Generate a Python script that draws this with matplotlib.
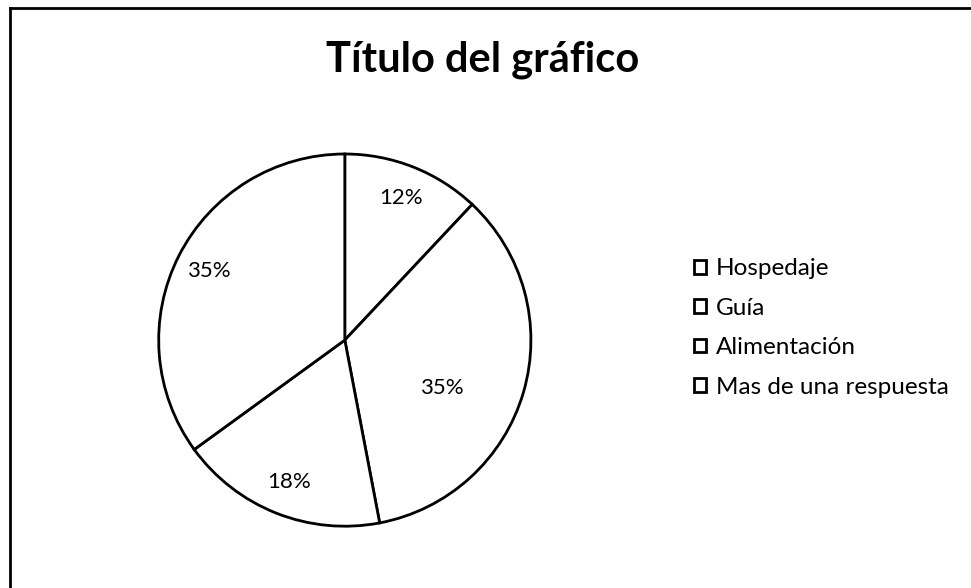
import matplotlib.pyplot as plt
from matplotlib.lines import Line2D

plt.rcParams['font.family'] = ['Lato', 'DejaVu Sans']

# datos del gráfico
categorias = ['Hospedaje', 'Guía', 'Alimentación', 'Mas de una respuesta']
porcentajes = [12, 35, 18, 35]
titulo = 'Título del gráfico'

fig = plt.figure(figsize=(9.71, 5.88), dpi=100)

ax = fig.add_axes([0.1596, 0.0986, 0.391, 0.646])
wedges, texts, autotexts = ax.pie(
    porcentajes, startangle=90, counterclock=False,
    colors=['white'] * len(porcentajes),
    wedgeprops={'edgecolor': 'black', 'linewidth': 2},
    autopct='%1.0f%%', pctdistance=0.82,
    textprops={'fontsize': 16, 'color': 'black'})
ax.set_xlim(-1.02, 1.02)
ax.set_ylim(-1.02, 1.02)
ax.set_aspect('equal')

# la etiqueta de "Guía" queda más cerca del centro en el original
autotexts[1].set_position((0.52, -0.26))

fig.text(0.497, 0.898, titulo, ha='center', va='center',
         fontsize=30, fontweight='bold')

fig.legend(wedges, categorias, loc='upper left',
           bbox_to_anchor=(0.692, 0.598), frameon=False,
           fontsize=17.5, handlelength=0.5, handleheight=0.5,
           handletextpad=0.4, labelspacing=0.76)

# marco escaneado: solo bordes superior e izquierdo
fig.add_artist(Line2D([0.0105, 0.0105], [0.0, 0.986], color='black', lw=2))
fig.add_artist(Line2D([0.0105, 1.0], [0.986, 0.986], color='black', lw=2))

fig.savefig('out.png', dpi=100)
